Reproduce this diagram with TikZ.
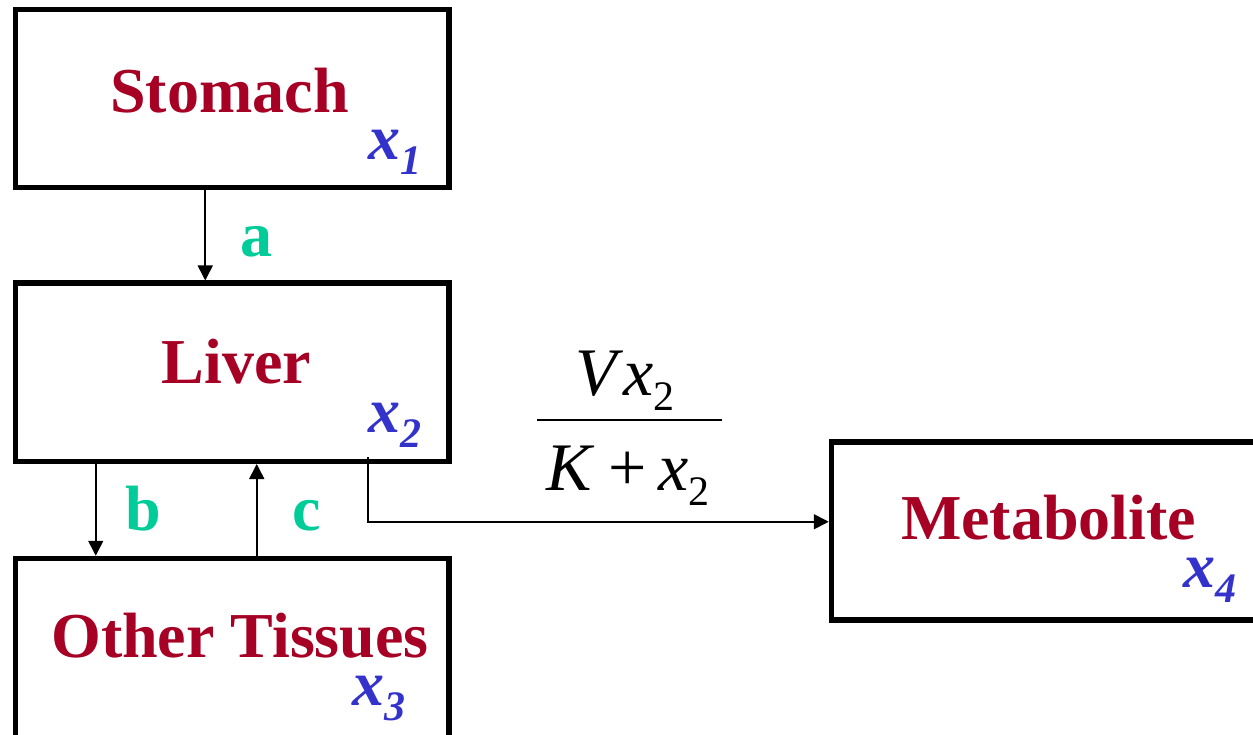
\documentclass[tikz,border=0pt]{standalone}
\usepackage{fontspec}
\setmainfont{Liberation Serif}
\usetikzlibrary{arrows.meta}

\definecolor{organred}{RGB}{166,0,36}
\definecolor{stateblue}{RGB}{51,51,204}
\definecolor{rategreen}{RGB}{0,204,153}

% lowered small index, e.g. the 2 of x_2
\newcommand{\lowsub}[1]{\lower15pt\hbox{\fontsize{42}{42}\selectfont #1}}

\tikzset{
  box/.style={draw, line width=5.5pt, minimum width=433.5pt, minimum height=178pt, inner sep=0pt},
  organ/.style={font=\fontsize{64}{70}\selectfont\bfseries, text=organred, anchor=base, inner sep=0pt},
  state/.style={font=\fontsize{64}{70}\selectfont\bfseries\itshape, text=stateblue, anchor=base west, inner sep=0pt},
  rate/.style={font=\fontsize{64}{70}\selectfont\bfseries, text=rategreen, anchor=base, inner sep=0pt},
  kinetics/.style={font=\fontsize{68}{72}\selectfont, anchor=base, inner sep=0pt},
  flow/.style={line width=1.6pt, -{Triangle[length=15pt,width=15pt]}},
}

\begin{document}
\begin{tikzpicture}[x=1pt,y=-1pt]
  \clip (0,0) rectangle (1253,735);

  % compartments
  \node[box] (stomach) at (232.25,98.75) {};
  \node[box] (liver) at (232.25,372.25) {};
  \node[box, minimum height=190pt] (tissues) at (232.25,653.5) {};
  \node[box] (metabolite) at (1048.25,530.75) {};

  \node[organ] (stomachname) at (229.5,113) {Stomach};
  \node[organ] (livername) at (236.5,383) {Liver};
  \node[organ] (tissuesname) at (240,657) {Other Tissues};
  \node[organ] (metabolitename) at (1048.5,539) {Metabolite};

  \node[state] (x1) at (368,160) {x\lowsub{1}};
  \node[state] (x2) at (368,432) {x\lowsub{2}};
  \node[state] (x3) at (352,705) {x\lowsub{3}};
  \node[state] (x4) at (1183,587) {x\lowsub{4}};

  % transfers
  \draw[flow] ([xshift=-27pt]stomach.south) -- ([xshift=-27pt]liver.north);
  \draw[flow] ([xshift=-136.5pt]liver.south) -- ([xshift=-136.5pt]tissues.north);
  \draw[flow] ([xshift=24.5pt]tissues.north) -- ([xshift=24.5pt]liver.south);
  \coordinate (tap) at (368,457);
  \draw[flow] (tap) |- ([yshift=9pt]metabolite.west);

  \node[rate] (ka) at (256,257) {a};
  \node[rate] (kb) at (143,530) {b};
  \node[rate] (kc) at (307,530) {c};

  % Michaelis-Menten rate
  \node[kinetics] (vmax) at (625,395) {\textit{V}\textit{x}\lowsub{2}};
  \node[kinetics] (km) at (628,490) {\textit{K}\hspace{14pt}+\hspace{12pt}\textit{x}\lowsub{2}};
  \draw[line width=2pt] (537,420) -- (722,420);
\end{tikzpicture}
\end{document}
